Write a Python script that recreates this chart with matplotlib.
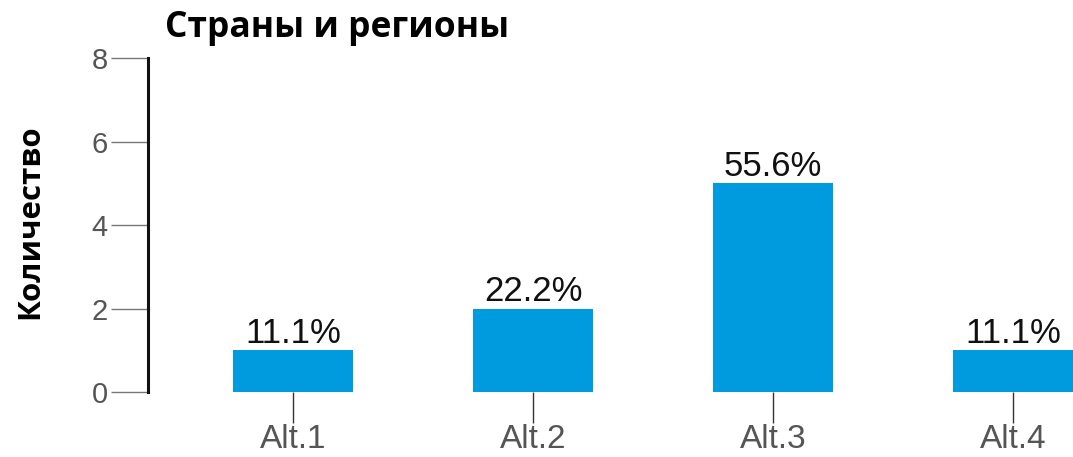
import matplotlib.pyplot as plt
import numpy as np

# data
categories = ["Alt.1", "Alt.2", "Alt.3", "Alt.4"]
counts = [1, 2, 5, 1]
percent_labels = ["11.1%", "22.2%", "55.6%", "11.1%"]
y_ticks = [0, 2, 4, 6, 8]

plt.rcParams['font.family'] = ['Liberation Sans', 'DejaVu Sans']

fig = plt.figure(figsize=(10.73, 4.57), dpi=100)
ax = fig.add_axes([0.138, 0.1422, 0.862, 0.7308])

x = np.arange(len(categories))
bars = ax.bar(x, counts, width=0.5, color='#009ADE', zorder=2)

for b, lab in zip(bars, percent_labels):
    ax.text(b.get_x() + b.get_width() / 2, b.get_height() + 0.17, lab,
            ha='center', va='baseline', fontsize=25, color='#111111')

ax.set_xlim(-0.604, 3.25)
ax.set_ylim(0, 8)
ax.set_xticks(x)
ax.set_xticklabels(categories)
ax.set_yticks(y_ticks)

ax.tick_params(axis='y', length=27, width=1, color='#777777', labelcolor='#555555',
               labelsize=21, pad=2)
ax.tick_params(axis='x', length=22, width=1, color='#333333', labelcolor='#555555',
               labelsize=24, pad=1)

for s in ['top', 'right', 'bottom']:
    ax.spines[s].set_visible(False)
ax.spines['left'].set_linewidth(2.2)
ax.spines['left'].set_color('#111111')

fig.text(0.154, 0.919, "Страны и регионы", fontsize=25.5, fontweight='bold',
         family=['Open Sans', 'DejaVu Sans'], ha='left', va='baseline')
fig.text(0.028, 0.515, "Количество", fontsize=22.5, fontweight='bold', rotation=90,
         family=['Open Sans', 'DejaVu Sans'], ha='center', va='center')

fig.savefig('out.png', dpi=100)
